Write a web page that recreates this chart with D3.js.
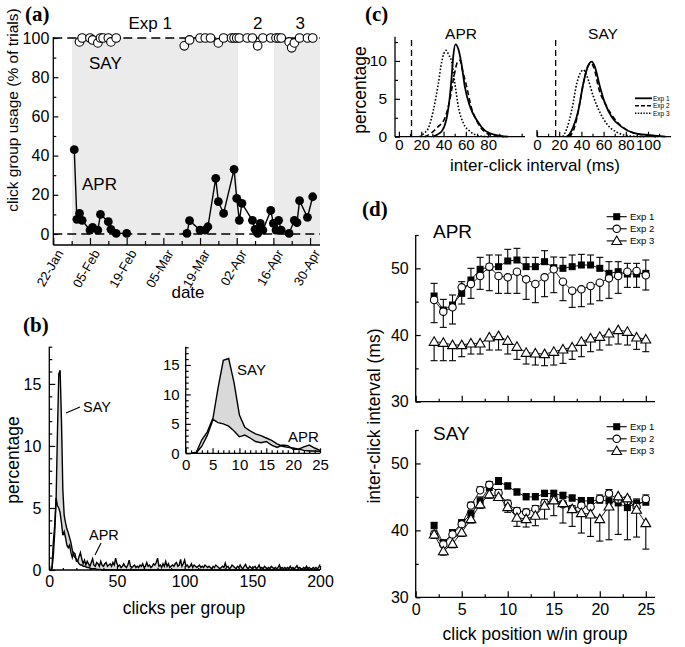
<!DOCTYPE html>
<html><head><meta charset="utf-8">
<script src="https://cdn.jsdelivr.net/npm/d3@7"></script>
<style>body{margin:0;background:#fff}svg{display:block}</style>
</head><body><svg id="c" width="685" height="647"></svg>
<script>
// ================= DATA =================
// (a) daily click-group usage (% of trials)
const aprDates = ["2018-01-30","2018-01-31","2018-02-01","2018-02-02","2018-02-05","2018-02-06","2018-02-08","2018-02-09","2018-02-12","2018-02-13","2018-02-15","2018-02-19",
  "2018-03-14","2018-03-15","2018-03-19","2018-03-21","2018-03-22","2018-03-25","2018-03-26","2018-03-28","2018-04-01","2018-04-02","2018-04-03","2018-04-04",
  "2018-04-08","2018-04-09","2018-04-10","2018-04-11","2018-04-12","2018-04-15","2018-04-16","2018-04-17","2018-04-18","2018-04-19","2018-04-22","2018-04-24","2018-04-25","2018-04-26","2018-04-29","2018-05-01"];
const aprUsage = [43,7.5,10.5,7,2,3.4,2,10,6.3,2.4,0.3,0.3,
  0.3,6.8,2,2,3.7,28.4,16.5,10.5,33,18.2,7,15.6,
  7,2.4,0.3,5.4,2,12,5.4,2,7,2,0.3,7,5.8,17,8.5,19];
const sayDates = ["2018-02-01","2018-02-02","2018-02-05","2018-02-06","2018-02-08","2018-02-09","2018-02-10","2018-02-12","2018-02-13","2018-02-15",
  "2018-03-13","2018-03-15","2018-03-19","2018-03-21","2018-03-23","2018-03-26","2018-03-28","2018-03-31","2018-04-01","2018-04-02","2018-04-03","2018-04-06","2018-04-08","2018-04-10",
  "2018-04-12","2018-04-15","2018-04-17","2018-04-18","2018-04-19","2018-04-22","2018-04-23","2018-04-24","2018-04-26","2018-04-29","2018-05-01"];
const sayUsage = [98,100,100,99,97.5,100,100,100,98,100,
  96,99,100,100,100,97.5,100,100,100,100,100,100,100,96,
  100,100,100,100,100,98,95,97.5,100,100,100];
const shadePeriods = [["2018-01-29 03","2018-04-02 12"],["2018-04-16 05","2018-05-03 19"]];
const dateTicks = ["2018-01-22","2018-02-05","2018-02-19","2018-03-05","2018-03-19","2018-04-02","2018-04-16","2018-04-30"];
const expNames = ["Exp 1","2","3"];
const expNameDates = ["2018-02-28 00","2018-04-10 00","2018-04-26 06"];
const usageTicks = [0,20,40,60,80,100];

// (b) distribution of clicks per group (%), for group sizes 1..200
const clicks = d3.range(1,201);
const aprPct = [0,0.2,2.3,3.6,5.8,5.2,5.0,4.6,3.8,2.8, 3.1,2.6,2.0,1.8,2.0,1.4,1.0,1.4,1.3,0.7, 0.7,1.1,1.4,0.9,0.5,
  0.8,0.4,0.7,0.5,0.3,0.6,0.9,0.4,0.3,0.6,0.5,0.3,0.7,0.4,0.3,0.5,0.6,0.3,0.4,0.5,0.3,0.6,0.4,0.95,0.5,
  0.3,0.4,0.2,0.3,0.5,0.3,0.2,0.4,0.8,0.3,0.2,0.3,0.4,0.2,0.3,0.2,0.4,0.3,0.5,0.2,0.3,0.6,0.3,0.4,0.2,
  0.3,0.5,0.4,0.6,0.95,0.3,0.4,0.2,0.5,0.3,0.7,0.3,0.5,0.2,0.3,0.4,0.3,0.5,0.6,0.3,0.4,0.85,0.3,0.5,0.8,
  0.3,0.4,0.2,0.3,0.5,0.2,0.4,0.3,0.2,0.3,0.4,0.2,0.3,0.2,0.4,0.3,0.2,0.3,0.2,0.1,0.3,0.2,0.4,0.3,0.2,
  0.1,0.2,0.3,0.2,0.55,0.2,0.3,0.1,0.2,0.4,0.3,0.2,0.1,0.3,0.2,0.4,0.2,0.1,0.3,0.45,0.2,0.1,0.3,0.2,0.1,
  0.2,0.3,0.1,0.2,0.4,0.1,0.2,0.1,0.3,0.2,0.1,0.2,0.1,0.3,0.2,0.1,0.2,0.1,0.2,0.4,0.1,0.2,0.1,0.2,0.1,
  0.2,0.1,0.3,0.1,0.2,0.1,0.2,0.35,0.1,0.2,0.1,0.1,0.2,0.1,0.3,0.1,0.2,0.1,0.1,0.2,0.1,0.2,0.1,0.2,0.45];
const sayPct = [0,0.1,1.2,3.0,5.5,11,15.8,16.1,12,6.5, 4.4,3.8,3.3,3.0,2.6,2.2,1.6,1.2,1.0,0.9, 0.7,0.5,0.4,0.4,0.3,
  0.3,0.25,0.2,0.2,0.15,0.1,0.1,0.1,0.1,0.05,0.05,0.05,0.05,0,0,0,0,0,0,0,0,0,0,0,0,
  ...Array(150).fill(0)];
const mainXTicks = [0,50,100,150,200];
const mainYTicks = [0,5,10,15];
const insetXTicks = [0,5,10,15,20,25];
const insetYTicks = [0,5,10,15];

// (c) inter-click interval distributions: [ms, %]
const cAPR = {
  exp1: [[30.3,0],[34.6,0.3],[38.8,0.8],[41.3,1.6],[43.5,3],[45.8,5.5],[47.3,8],[48.7,10.6],[50.7,12.2],[53.2,11.6],[56.2,9.5],[59.2,6.5],[63.7,4],[69.7,2.2],[77.2,0.8],[86.1,0.25],[97.8,0]],
  exp2: [[22.9,0],[28.2,0.4],[35,1.3],[41.3,2.5],[45.8,5],[49.4,8],[52.6,9.9],[54.7,10.1],[57.4,8.5],[60.1,7],[65.2,3.7],[70.8,1.8],[77.2,0.6],[86.1,0.1],[93.8,0]],
  exp3: [[18.7,0],[22.9,0.5],[26.3,1.1],[30.9,3.5],[35.3,7],[38.4,9.9],[42.2,11.4],[44.6,10.8],[47.3,9.9],[50.2,7],[53.2,4],[57.7,1.8],[63.7,0.7],[72.6,0.1],[81.1,0]]
};
const cSAY = {
  exp1: [[26.4,0],[29.6,0.4],[32.7,1.3],[37.3,3.5],[41.7,7],[46.2,9.4],[49.3,9.9],[52.2,9.2],[56.7,6.6],[61.3,4.4],[67.3,2.6],[76.3,1.3],[86.8,0.5],[101.8,0.2],[115.7,0]],
  exp2: [[28.5,0],[32.8,0.8],[36,2.5],[39.2,5],[42.4,7.5],[45.5,9.2],[48.6,9.7],[51.9,8.8],[55.2,6.6],[62.8,4],[71.8,2],[80.8,0.9],[92.7,0.3],[107.2,0]],
  exp3: [[23.2,0],[26.7,1],[31.3,3.5],[35.8,7],[38.6,8.3],[41.7,8.8],[43.9,8.4],[46.2,7.5],[50.8,5.3],[56.7,3.2],[62.8,1.7],[71.8,0.6],[83.8,0.1],[96.6,0]]
};
const cThreshold = {APR: 11.3, SAY: 16.8};
const cLeftXTicks = [0,20,40,60,80];
const cRightXTicks = [0,20,40,60,80,100];
const cYTicks = [0,5,10];
const cLegend = ["Exp 1","Exp 2","Exp 3"];

// (d) inter-click interval by click position
const positions = d3.range(2,26);
const dAPR1 = [45.85,43.75,44.5,46.25,48.25,49.85,50.2,50.25,51.1,51.25,50.25,50.25,51.0,50.1,50.0,50.25,50.5,50.5,50.0,49.25,49.5,49.15,49.15,49.25];
const dAPR1err = [1.9,1.6,1.5,1.75,1.75,1.8,1.8,1.75,1.75,1.75,1.4,1.4,1.65,1.6,1.65,1.75,1.6,1.5,1.65,1.75,1.5,1.6,1.6,2.0];
const dAPR2 = [45.25,43.5,44.15,47.15,47.65,48.85,50.25,48.85,48.65,49.5,48.35,47.65,48.65,49.85,48.0,46.65,46.85,47.35,47.85,48.5,48.85,49.5,49.6,48.95];
const dAPR2err = [3.4,2.35,2.5,2.5,2.15,2.0,3.6,2.6,2.4,3.25,3.0,2.8,2.9,3.5,2.85,2.5,2.6,2.7,2.7,3.0,2.6,2.35,2.45,2.2];
const dAPR3 = [39,38.85,38.5,38.5,38.75,38.75,39.65,39.85,39.15,38.25,37.35,37.25,37.15,37.5,37.85,38.15,39,39.5,39.75,40.25,40.75,40.5,39.65,39.35];
const dAPR3err = [2.85,2.7,2.35,1.75,1.6,1.6,1.9,2.1,2.0,1.9,1.7,1.75,1.75,2.0,2.1,1.8,2.25,2.0,2.0,1.75,2.1,2.0,1.8,1.85];
const dSAY1 = [40.7,38.1,39.6,41.1,42.4,44.4,46.4,47.3,46.6,45.7,45.0,45.0,45.5,45.5,45.2,44.8,44.4,44.4,44.5,44.4,44.1,43.4,44.1,44.2];
const dSAY1err = [0.5,0.5,0.5,0.5,0.6,0.6,0.6,0.6,0.5,0.5,0.5,0.5,0.5,0.5,0.5,0.5,0.5,0.5,0.6,0.6,0.6,0.6,0.6,0.6];
const dSAY2 = [39.4,37.9,39.4,40.9,43.7,46.0,46.8,45.6,44.0,42.9,42.7,43.2,44.1,44.6,43.9,43.2,43.7,43.5,44.7,45.5,44.6,44.4,43.5,44.7];
const dSAY2err = [0.5,0.5,0.5,0.5,0.5,0.5,0.5,0.5,0.5,0.5,0.5,0.5,0.5,0.5,0.5,0.5,0.5,0.5,0.6,0.6,0.6,0.6,0.6,0.6];
const dSAY3 = [39.4,36.9,38.0,39.7,41.7,43.9,45.4,45.0,43.5,41.9,41.7,42.2,43.7,44.5,44.1,43.2,42.6,42.4,41.7,43.6,45.1,44.8,43.1,41.1];
const dSAY3err = [0.6,0.6,0.6,0.6,0.6,0.6,0.6,0.5,0.8,1.3,1.2,1.5,2.0,2.3,3.0,2.6,3.0,3.3,3.3,5.0,5.7,6.2,4.1,3.9];
const dXTicks = [0,5,10,15,20,25];
const dYTicks = [30,40,50];
const dLegend = ["Exp 1","Exp 2","Exp 3"];

// ================= DRAWING =================
const FONT = '"Liberation Sans", Arial, Helvetica, sans-serif';
const SERIF = '"Liberation Serif", "Times New Roman", serif';
const svg = d3.select("#c");
svg.append("rect").attr("width",685).attr("height",647).attr("fill","#fff");

function txt(x,y,s,size,anchor,rot){
  const t = svg.append("text").attr("x",x).attr("y",y).attr("font-family",FONT)
    .attr("font-size",size).attr("text-anchor",anchor||"start").attr("fill","#000").text(s);
  if(rot!==undefined) t.attr("transform",`rotate(${rot},${x},${y})`);
  return t;
}
function letter(x,y,s){
  svg.append("text").attr("x",x).attr("y",y).attr("font-family",SERIF).attr("font-weight","bold")
    .attr("font-size",21).attr("fill","#000").text(s);
}
function line(x1,y1,x2,y2,w,dash){
  const l = svg.append("line").attr("x1",x1).attr("y1",y1).attr("x2",x2).attr("y2",y2)
    .attr("stroke","#000").attr("stroke-width",w||1.2);
  if(dash) l.attr("stroke-dasharray",dash);
  return l;
}
function ax(orient, scale, pos, values, len, labels, fs, pad){
  const mk = orient==="left" ? d3.axisLeft : d3.axisBottom;
  const a = mk(scale).tickValues(values).tickSizeInner(-len).tickSizeOuter(0).tickPadding(pad||5);
  if(!labels) a.tickFormat(()=>"");
  const g = svg.append("g").attr("transform", orient==="left" ? `translate(${pos},0)` : `translate(0,${pos})`).call(a);
  g.select(".domain").remove();
  g.selectAll("line").attr("stroke","#000").attr("stroke-width",1.2);
  g.selectAll("text").attr("font-family",FONT).attr("font-size",fs||16).attr("fill","#000");
  return g;
}

// ---------- (a) ----------
letter(25,21,"(a)");
const parseDay = d3.timeParse("%Y-%m-%d");
const parseHour = d3.timeParse("%Y-%m-%d %H");
const xA = d3.scaleTime().domain([parseDay("2018-01-22"), parseHour("2018-05-03 19")]).range([53.3,320]);
const yA = d3.scaleLinear().domain([0,100]).range([234,38]);
shadePeriods.forEach(p=>{
  const x0 = xA(parseHour(p[0])), x1 = xA(parseHour(p[1]));
  svg.append("rect").attr("x",x0).attr("y",yA(100)).attr("width",x1-x0).attr("height",245-yA(100)).attr("fill","#ebebeb");
});
line(53.3,yA(0),320,yA(0),1.6,"9,5");
line(53.3,yA(100),320,yA(100),1.6,"9,5");
line(53.3,37,53.3,245,1.3);
line(53.3,245,320,245,1.3);
ax("left", yA, 53.3, usageTicks, 5, true, 16, 4);
ax("left", yA, 53.3, d3.range(10,100,20), 3, false);
const gx = ax("bottom", xA, 245, dateTicks.map(parseDay), 7, true, 13, 0);
gx.selectAll("text").attr("y",0).attr("dy",0).attr("text-anchor","end")
  .attr("transform","translate(10,8) rotate(-60)").text((d)=>d3.timeFormat("%d-%b")(d));
const minorDates = d3.range(0,8).map(i=>d3.timeDay.offset(parseDay("2018-01-29"),14*i)).filter(d=>xA(d)<320);
ax("bottom", xA, 245, minorDates, 4, false);
const aprPts = aprDates.map((d,i)=>({d:parseDay(d),v:aprUsage[i]}));
const segs=[]; let cur=[];
aprPts.forEach((p,i)=>{ if(i>0 && (p.d-aprPts[i-1].d)/864e5>10){segs.push(cur);cur=[];} cur.push(p); });
segs.push(cur);
const lA = d3.line().x(p=>xA(p.d)).y(p=>yA(p.v));
segs.forEach(s=>svg.append("path").attr("d",lA(s)).attr("fill","none").attr("stroke","#000").attr("stroke-width",1.4));
svg.append("g").selectAll("circle").data(aprPts).join("circle")
  .attr("cx",p=>xA(p.d)).attr("cy",p=>yA(p.v)).attr("r",4.4).attr("fill","#000");
svg.append("g").selectAll("circle").data(sayDates.map((d,i)=>({d:parseDay(d),v:sayUsage[i]}))).join("circle")
  .attr("cx",p=>xA(p.d)).attr("cy",p=>yA(p.v)).attr("r",4.3).attr("fill","#fff").attr("stroke","#000").attr("stroke-width",1.1);
expNames.forEach((n,i)=>txt(xA(parseHour(expNameDates[i])),29,n,17,"middle"));
txt(89,69,"SAY",17);
txt(82,190,"APR",17);
txt(18,110,"click group usage (% of trials)",15.5,"middle",-90);
txt(188,298,"date",17,"middle");

// ---------- (b) ----------
letter(23,332,"(b)");
const xB = d3.scaleLinear().domain([0,200]).range([49.3,320]);
const yB = d3.scaleLinear().domain([0,18]).range([570,346.7]);
const areaB = (xs,ys)=>d3.area().x((d,i)=>xs(clicks[i])).y0((d,i)=>ys(aprPct[i])).y1((d,i)=>ys(sayPct[i]));
const lineB = (xs,ys,arr)=>d3.line().x((d,i)=>xs(clicks[i])).y((d,i)=>ys(arr[i]));
svg.append("path").attr("d",areaB(xB,yB)(clicks)).attr("fill","#d9d9d9");
svg.append("path").attr("d",lineB(xB,yB,sayPct)(clicks)).attr("fill","none").attr("stroke","#000").attr("stroke-width",1.4);
svg.append("path").attr("d",lineB(xB,yB,aprPct)(clicks)).attr("fill","none").attr("stroke","#000").attr("stroke-width",1.4);
line(49.3,346.7,49.3,570,1.3);
line(49.3,570,320,570,1.3);
ax("left", yB, 49.3, mainYTicks, 6, true, 16, 8);
ax("left", yB, 49.3, d3.range(1,19).filter(v=>v%5), 3, false);
ax("bottom", xB, 570, mainXTicks, 4, true, 16, 6);
ax("bottom", xB, 570, d3.range(10,200,10).filter(v=>v%50), 2, false);
line(66,413,80,407,1.1); txt(83,412,"SAY",14.5);
line(101,543,95,555,1.1); txt(89,540,"APR",14.5);
txt(19,460,"percentage",17.5,"middle",-90);
txt(184,614,"clicks per group",17.5,"middle");
const xI = d3.scaleLinear().domain([0,25]).range([185.7,320]);
const yI = d3.scaleLinear().domain([0,18]).range([453.3,347.3]);
const nI = clicks.filter(c=>c<=25);
svg.append("path").attr("d",areaB(xI,yI)(nI)).attr("fill","#d9d9d9");
svg.append("path").attr("d",lineB(xI,yI,sayPct)(nI)).attr("fill","none").attr("stroke","#000").attr("stroke-width",1.4);
svg.append("path").attr("d",lineB(xI,yI,aprPct)(nI)).attr("fill","none").attr("stroke","#000").attr("stroke-width",1.4);
line(185.7,346.7,185.7,453.3,1.3);
line(185.7,453.3,320,453.3,1.3);
ax("left", yI, 185.7, insetYTicks, 5, true, 15, 6);
ax("left", yI, 185.7, d3.range(1,19).filter(v=>v%5), 3, false);
ax("bottom", xI, 453.3, insetXTicks, 5, true, 15, 6);
ax("bottom", xI, 453.3, d3.range(1,25).filter(v=>v%5), 3, false);
txt(237,375,"SAY",15);
txt(288,442,"APR",15);

// ---------- (c) ----------
letter(365,21,"(c)");
const yC = d3.scaleLinear().domain([0,13.2]).range([136.7,36.7]);
const xCL = d3.scaleLinear().domain([-3.5,113]).range([395,525]);
const xCR = d3.scaleLinear().domain([0,118]).range([537,668]);
const dashes = {exp1:null, exp2:"5,3", exp3:"1.6,1.8"};
function cPanel(xs, curves, ticks, yAxis, thr){
  line(xs.range()[0],136.7,xs.range()[1]+(yAxis?0:3),136.7,1.3);
  if(yAxis){ line(xs.range()[0],36.7,xs.range()[0],136.7,1.3);
    ax("left", yC, xs.range()[0], cYTicks, 5, true, 15.5, 8);
    ax("left", yC, xs.range()[0], [2.5,7.5,12.5], 3, false);
  } else { line(xs.range()[0],130,xs.range()[0],136.7,1.3); }
  ax("bottom", xs, 136.7, ticks, 5, true, 15, 3);
  ax("bottom", xs, 136.7, d3.range(10,111,20), 3, false);
  line(xs(thr),40,xs(thr),136.7,1.3,"6,4");
  const lc = d3.line().x(d=>xs(d[0])).y(d=>yC(d[1])).curve(d3.curveMonotoneX);
  ["exp3","exp2","exp1"].forEach(k=>{
    const p = svg.append("path").attr("d",lc(curves[k])).attr("fill","none").attr("stroke","#000")
      .attr("stroke-width", k==="exp1"?1.8:1.6);
    if(dashes[k]) p.attr("stroke-dasharray",dashes[k]);
  });
}
cPanel(xCL, cAPR, cLeftXTicks, true, cThreshold.APR);
cPanel(xCR, cSAY, cRightXTicks, false, cThreshold.SAY);
txt(461,39,"APR",15.5,"middle");
txt(603,39,"SAY",15.5,"middle");
txt(366,90,"percentage",17.5,"middle",-90);
txt(535,171,"inter-click interval (ms)",17,"middle");
cLegend.forEach((n,i)=>{
  const y = 98.3 + i*7.5;
  const l = line(635,y,652,y,i===0?1.8:1.5);
  if(i===1) l.attr("stroke-dasharray","4,2");
  if(i===2) l.attr("stroke-dasharray","1.4,1.4");
  txt(653,y+2.3,n,6.5);
});

// ---------- (d) ----------
letter(362,216,"(d)");
const xD = d3.scaleLinear().domain([0,26]).range([415.7,655]);
function marker(g, type, x, y){
  if(type==="sq") g.append("rect").attr("x",x-3.5).attr("y",y-3.5).attr("width",7).attr("height",7).attr("fill","#000");
  else if(type==="ci") g.append("circle").attr("cx",x).attr("cy",y).attr("r",3.7).attr("fill","#fff").attr("stroke","#000").attr("stroke-width",1.1);
  else g.append("path").attr("d",d3.symbol(d3.symbolTriangle,42)()).attr("transform",`translate(${x},${y+0.8})`)
    .attr("fill","#fff").attr("stroke","#000").attr("stroke-width",1.1);
}
function dPanel(yTop, yBot, series, xLabels, title, titleY, legY){
  const yS = d3.scaleLinear().domain([30,55]).range([yBot, yTop]);
  line(415.7,yTop,415.7,yBot,1.3);
  line(415.7,yBot,655,yBot,1.3);
  ax("left", yS, 415.7, dYTicks, 5, true, 16, 7);
  ax("left", yS, 415.7, [35,45,55], 3, false);
  ax("bottom", xD, yBot, dXTicks, 6, xLabels, 16, 6);
  ax("bottom", xD, yBot, [2.5,7.5,12.5,17.5,22.5], 3, false);
  const lnD = d3.line().x((d,i)=>xD(positions[i])).y(d=>yS(d));
  series.forEach(s=>{
    svg.append("path").attr("d",lnD(s.v)).attr("fill","none").attr("stroke","#000").attr("stroke-width",0.9);
    const g = svg.append("g");
    s.v.forEach((v,i)=>{
      const x = xD(positions[i]), y0 = yS(v), y1 = yS(v + s.dir*s.e[i]);
      g.append("line").attr("x1",x).attr("x2",x).attr("y1",y0).attr("y2",y1).attr("stroke","#000").attr("stroke-width",1.1);
      g.append("line").attr("x1",x-3.5).attr("x2",x+3.5).attr("y1",y1).attr("y2",y1).attr("stroke","#000").attr("stroke-width",1.1);
    });
    s.v.forEach((v,i)=>marker(g, s.m, xD(positions[i]), yS(v)));
  });
  txt(433,titleY,title,19);
  dLegend.forEach((n,i)=>{
    const y = legY + i*12.1;
    line(606.7,y,626.7,y,1.1);
    const g = svg.append("g"); marker(g, series[i].m, 616.7, y);
    txt(630,y+3.3,n,9.5);
  });
}
dPanel(235,401.7,[
  {v:dAPR1,e:dAPR1err,dir:1,m:"sq"},
  {v:dAPR2,e:dAPR2err,dir:-1,m:"ci"},
  {v:dAPR3,e:dAPR3err,dir:-1,m:"tr"}],false,"APR",238,216.7);
dPanel(430,597.3,[
  {v:dSAY1,e:dSAY1err,dir:1,m:"sq"},
  {v:dSAY2,e:dSAY2err,dir:1,m:"ci"},
  {v:dSAY3,e:dSAY3err,dir:-1,m:"tr"}],true,"SAY",440,426.7);
txt(380,416,"inter-click interval (ms)",17.5,"middle",-90);
txt(535,640,"click position w/in group",17.5,"middle");
</script></body></html>
